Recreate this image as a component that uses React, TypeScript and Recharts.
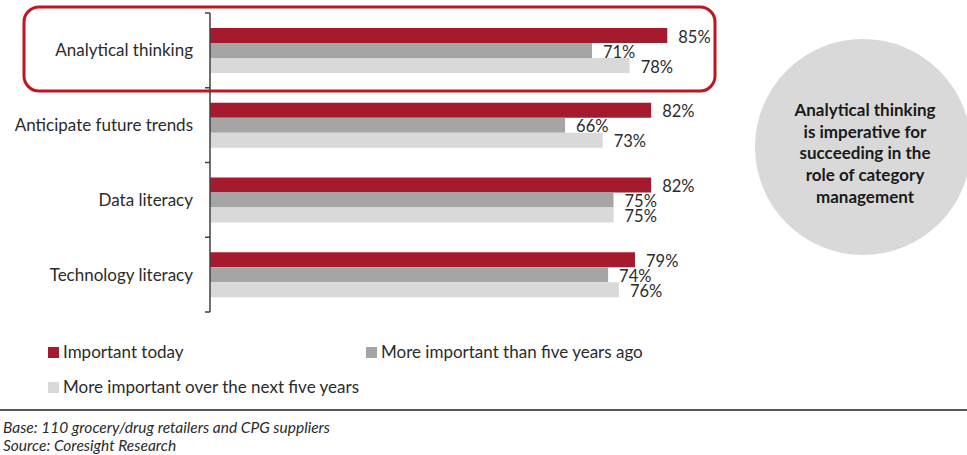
import React from 'react';
import { BarChart, Bar, XAxis, YAxis, LabelList, Legend } from 'recharts';

const categories = ['Analytical thinking', 'Anticipate future trends', 'Data literacy', 'Technology literacy'];
const importantToday = [85, 82, 82, 79];
const moreThanFiveYearsAgo = [71, 66, 75, 74];
const nextFiveYears = [78, 73, 75, 76];
const seriesNames = ['Important today', 'More important than five years ago', 'More important over the next five years'];
const calloutLines = ['Analytical thinking', 'is imperative for', 'succeeding in the', 'role of category', 'management'];
const footerLines = ['Base: 110 grocery/drug retailers and CPG suppliers', 'Source: Coresight Research'];

const data = categories.map((c, i) => ({
  name: c,
  today: importantToday[i],
  ago: moreThanFiveYearsAgo[i],
  next: nextFiveYears[i],
}));

const W = 967;
const H = 455;
const LEGEND_H = 60;
const MARGIN = { top: 13, right: 219, bottom: 143 - LEGEND_H, left: 0 };
const AXIS_X = 210;
const HALF_BAND = (H - MARGIN.top - MARGIN.bottom - LEGEND_H) / categories.length / 2;
const FONT = "Lato, 'Open Sans', sans-serif";
const TEXT = '#2b2b2b';
const RED = '#a51a2d';
const GRAY = '#a5a5a5';
const LIGHT = '#d9d9d9';

const CategoryTick = (props: any) => {
  const { y, payload, index } = props;
  const last = index === categories.length - 1;
  return (
    <g>
      <line x1={AXIS_X - 5} x2={AXIS_X} y1={y - HALF_BAND} y2={y - HALF_BAND} stroke="#404040" strokeWidth={1.5} />
      {last && (
        <line x1={AXIS_X - 5} x2={AXIS_X} y1={y + HALF_BAND} y2={y + HALF_BAND} stroke="#404040" strokeWidth={1.5} />
      )}
      <text x={193} y={y} dy={6} textAnchor="end" fill={TEXT} fontSize={17} fontFamily={FONT}>
        {payload.value}
      </text>
    </g>
  );
};

const ValueLabel = (props: any) => {
  const { x, y, width, height, value } = props;
  return (
    <text x={x + width + 11} y={y + height / 2 + 7} fill={TEXT} fontSize={16.5} fontFamily={FONT}>
      {`${value}%`}
    </text>
  );
};

const LEGEND_POS: Record<string, { left: number; top: number }> = {
  [seriesNames[0]]: { left: 48, top: 0 },
  [seriesNames[1]]: { left: 366, top: 0 },
  [seriesNames[2]]: { left: 48, top: 35 },
};

const LegendContent = (props: any) => {
  const payload = props.payload || [];
  return (
    <div style={{ position: 'relative', width: 700, height: LEGEND_H }}>
      {payload.map((p: any, i: number) => {
        const pos = LEGEND_POS[p.value] || { left: 48, top: 0 };
        return (
          <div
            key={i}
            style={{
              position: 'absolute',
              left: pos.left,
              top: pos.top,
              display: 'flex',
              alignItems: 'center',
              fontFamily: FONT,
              fontSize: 17,
              color: TEXT,
              whiteSpace: 'nowrap',
              lineHeight: '20px',
            }}
          >
            <span style={{ display: 'inline-block', width: 11, height: 11, background: p.color, marginRight: 4 }} />
            {p.value}
          </div>
        );
      })}
    </div>
  );
};

export default function App() {
  return (
    <div style={{ position: 'absolute', left: 0, top: 0, width: W, height: H, background: '#fff', overflow: 'hidden' }}>
      <svg width={W} height={H} style={{ position: 'absolute', left: 0, top: 0 }}>
        <rect x={24} y={7} width={691} height={84} rx={15} ry={15} fill="none" stroke="#c0161f" strokeWidth={3} />
        <circle cx={863} cy={147} r={108} fill={LIGHT} />
        {calloutLines.map((l, i) => (
          <text
            key={i}
            x={865}
            y={116 + i * 21.7}
            textAnchor="middle"
            fontWeight="bold"
            fontSize={17}
            fontFamily={FONT}
            fill="#1a1a1a"
          >
            {l}
          </text>
        ))}
      </svg>
      <div style={{ position: 'absolute', left: 0, top: 0 }}>
        <BarChart width={W} height={H} data={data} layout="vertical" margin={MARGIN} barGap={0}>
          <XAxis type="number" domain={[0, 100]} hide />
          <YAxis
            type="category"
            dataKey="name"
            width={AXIS_X}
            axisLine={{ stroke: '#404040', strokeWidth: 1.5 }}
            tickLine={false}
            tick={<CategoryTick />}
            interval={0}
          />
          <Legend
            verticalAlign="bottom"
            align="left"
            content={<LegendContent />}
            wrapperStyle={{ position: 'absolute', left: 0, top: 342, width: 700, height: LEGEND_H }}
          />
          <Bar dataKey="today" name={seriesNames[0]} fill={RED} barSize={15} isAnimationActive={false}>
            <LabelList dataKey="today" content={<ValueLabel />} />
          </Bar>
          <Bar dataKey="ago" name={seriesNames[1]} fill={GRAY} barSize={15} isAnimationActive={false}>
            <LabelList dataKey="ago" content={<ValueLabel />} />
          </Bar>
          <Bar dataKey="next" name={seriesNames[2]} fill={LIGHT} barSize={15} isAnimationActive={false}>
            <LabelList dataKey="next" content={<ValueLabel />} />
          </Bar>
        </BarChart>
      </div>
      <div style={{ position: 'absolute', left: 0, top: 409, width: W, height: 2, background: '#595959' }} />
      {footerLines.map((l, i) => (
        <div
          key={i}
          style={{
            position: 'absolute',
            left: 3,
            top: 418 + i * 18,
            fontFamily: FONT,
            fontStyle: 'italic',
            fontSize: 15.5,
            lineHeight: '18px',
            color: TEXT,
            whiteSpace: 'nowrap',
          }}
        >
          {l}
        </div>
      ))}
    </div>
  );
}
